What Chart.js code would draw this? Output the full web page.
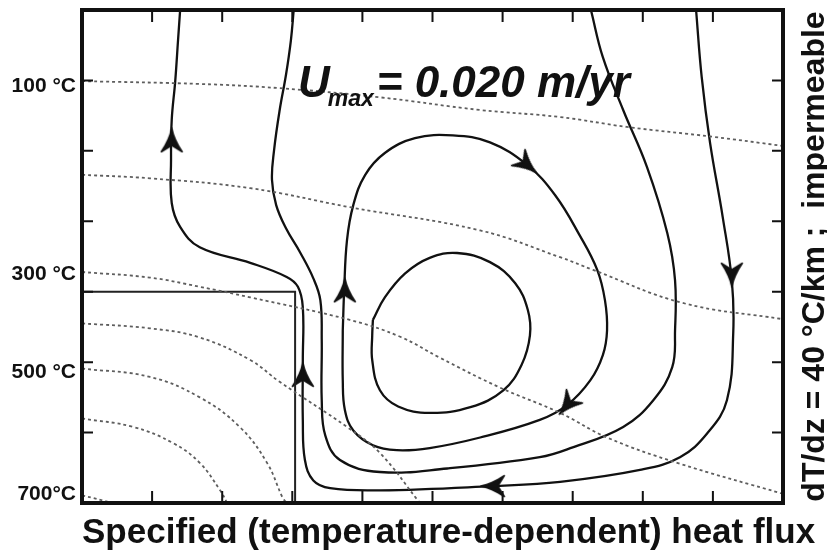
<!DOCTYPE html>
<html>
<head>
<meta charset="utf-8">
<script src="https://cdn.jsdelivr.net/npm/chart.js@4.4.1/dist/chart.umd.min.js"></script>
<style>
  html, body { margin: 0; padding: 0; background: #fff; }
</style>
</head>
<body>
<canvas id="flowChart" width="827" height="557"></canvas>
<script>
// section is 10 units across and 7 units deep (depth grows downward)
const xTicks = [0, 1, 2, 3, 4, 5, 6, 7, 8, 9, 10];
const yTicks = [0, 1, 2, 3, 4, 5, 6, 7];
const tempLabels = ["100 °C", "300 °C", "500 °C", "700°C"];
const tempDepths = [1.08, 3.75, 5.14, 6.88];

// isotherms (dotted)
const iso100 = [[0, 1.01], [1.68, 1.05], [2.82, 1.11], [4.25, 1.24], [5.68, 1.42], [6.82, 1.52], [7.77, 1.66], [9.0, 1.80], [10, 1.93]];
const iso200 = [[0, 2.34], [0.97, 2.39], [2.40, 2.53], [3.82, 2.80], [5.68, 3.13], [6.82, 3.51], [7.29, 3.69], [8.57, 4.16], [10, 4.39]];
const iso300 = [[0, 3.72], [0.97, 3.80], [1.68, 3.93], [2.40, 4.08], [3.82, 4.40], [4.54, 4.64], [5.11, 4.94], [5.96, 5.36], [6.82, 5.72], [7.49, 6.07], [8.49, 6.43], [10, 6.87]];
const iso400 = [[0, 4.45], [0.97, 4.52], [1.68, 4.65], [2.40, 4.97], [2.82, 5.28], [3.78, 5.92], [4.25, 6.29], [4.82, 7.0]];
const iso500 = [[0, 5.09], [0.97, 5.21], [1.68, 5.50], [2.25, 5.92], [2.64, 6.43], [2.86, 6.92], [2.92, 7.0]];
const iso600 = [[0, 5.80], [0.73, 5.92], [1.30, 6.15], [1.68, 6.43], [1.97, 6.82], [2.07, 7.0]];
const iso700 = [[0, 6.89], [0.44, 7.0]];

// block outline in the lower left corner
const blockEdge = [[0, 4.0], [3.04, 4.0], [3.04, 7.0]];

// streamlines, listed in flow direction
const streamOuter = [[8.76, 0], [8.84, 0.95], [8.96, 1.89], [9.14, 2.94], [9.27, 3.84], [9.29, 4.59], [9.20, 5.54], [8.92, 6.01], [8.53, 6.35], [7.96, 6.53], [6.82, 6.70], [5.86, 6.76], [4.25, 6.82], [3.54, 6.79], [3.30, 6.68], [3.18, 6.39], [3.15, 5.82], [3.15, 4.97], [3.15, 4.22], [3.08, 3.93], [2.92, 3.79], [2.40, 3.59], [1.68, 3.37], [1.40, 3.08], [1.28, 2.74], [1.27, 2.13], [1.28, 1.56], [1.33, 1.01], [1.37, 0.43], [1.40, 0]];
const streamMiddle = [[7.26, 0], [7.43, 0.67], [7.72, 1.42], [8.06, 2.23], [8.35, 3.17], [8.46, 3.84], [8.46, 4.55], [8.42, 5.07], [8.15, 5.54], [7.72, 5.92], [7.00, 6.21], [6.53, 6.35], [5.21, 6.51], [4.25, 6.56], [3.68, 6.39], [3.47, 6.04], [3.42, 5.54], [3.42, 4.69], [3.40, 4.12], [3.30, 3.81], [3.11, 3.44], [2.91, 3.10], [2.77, 2.77], [2.71, 2.41], [2.74, 1.99], [2.82, 1.42], [2.91, 0.92], [2.98, 0.43], [3.02, 0]];
const loopOuter = [[3.72, 4.55], [3.74, 3.98], [3.78, 3.27], [3.87, 2.77], [4.04, 2.34], [4.32, 2.03], [4.75, 1.82], [5.29, 1.78], [5.82, 1.88], [6.35, 2.20], [6.75, 2.63], [7.10, 3.20], [7.35, 3.69], [7.46, 4.12], [7.49, 4.55], [7.43, 4.90], [7.25, 5.26], [6.92, 5.61], [6.53, 5.82], [5.68, 6.07], [4.96, 6.22], [4.49, 6.25], [4.15, 6.18], [3.87, 5.97], [3.75, 5.68], [3.72, 5.26], [3.72, 4.55]];
const loopInner = [[4.15, 4.40], [4.32, 4.08], [4.61, 3.74], [4.96, 3.52], [5.35, 3.45], [5.82, 3.58], [6.18, 3.88], [6.36, 4.26], [6.39, 4.62], [6.27, 5.04], [6.01, 5.40], [5.54, 5.64], [4.96, 5.72], [4.51, 5.63], [4.25, 5.40], [4.14, 4.97], [4.14, 4.62], [4.15, 4.40]];

// flow arrows: position and heading (degrees clockwise from up)
const arrowPos = [[1.28, 1.85], [3.15, 5.18], [5.86, 6.76], [9.27, 3.76], [3.75, 3.98], [6.35, 2.20], [6.92, 5.61]];
const arrowDir = [0, 0, 270, 180, 0, 130, 220];

const pts = arr => arr.map(([x, y]) => ({ x, y }));
const FONT = "'Liberation Sans', Arial, Helvetica, sans-serif";
const INK = "#111";

function makeArrowHead() {
    const c = document.createElement("canvas");
    c.width = 24;
    c.height = 26;
    const g = c.getContext("2d");
    g.fillStyle = INK;
    g.strokeStyle = INK;
    g.lineWidth = 1.5;
    g.lineJoin = "round";
    g.beginPath();
    g.moveTo(12, 1);
    g.quadraticCurveTo(14.5, 13, 22.5, 24.5);
    g.lineTo(12, 18);
    g.lineTo(1.5, 24.5);
    g.quadraticCurveTo(9.5, 13, 12, 1);
    g.closePath();
    g.fill();
    g.stroke();
    return c;
}

function isotherm(arr) {
    return {
        data: pts(arr), showLine: true, pointRadius: 0,
        borderColor: "#5e5e5e", borderWidth: 1.8, borderDash: [3, 3],
        tension: 0.4
    };
}
function stream(arr) {
    return {
        data: pts(arr), showLine: true, pointRadius: 0,
        borderColor: INK, borderWidth: 2.3, tension: 0.4
    };
}

const overlay = {
    id: "overlay",
    afterDraw(chart) {
        const { ctx, chartArea: a, scales: { x, y } } = chart;
        ctx.save();

        // frame with inward ticks
        ctx.strokeStyle = INK;
        ctx.lineWidth = 2;
        ctx.beginPath();
        xTicks.slice(1, -1).forEach(v => {
            const px = x.getPixelForValue(v);
            ctx.moveTo(px, a.top); ctx.lineTo(px, a.top + 12);
            ctx.moveTo(px, a.bottom); ctx.lineTo(px, a.bottom - 12);
        });
        yTicks.slice(1, -1).forEach(v => {
            const py = y.getPixelForValue(v);
            ctx.moveTo(a.left, py); ctx.lineTo(a.left + 11, py);
            ctx.moveTo(a.right, py); ctx.lineTo(a.right - 11, py);
        });
        ctx.stroke();
        ctx.lineWidth = 4;
        ctx.strokeRect(a.left, a.top, a.width, a.height);

        ctx.fillStyle = INK;

        // temperature labels on the left
        ctx.font = "bold 21px " + FONT;
        ctx.textAlign = "right";
        ctx.textBaseline = "middle";
        tempLabels.forEach((t, i) => {
            ctx.fillText(t, a.left - 6, y.getPixelForValue(tempDepths[i]));
        });

        // U_max annotation
        ctx.textAlign = "left";
        ctx.textBaseline = "alphabetic";
        let ux = x.getPixelForValue(3.08);
        const uy = y.getPixelForValue(1.24);
        ctx.font = "italic bold 44px " + FONT;
        ctx.fillText("U", ux, uy);
        ux += ctx.measureText("U").width - 2;
        ctx.font = "italic bold 23px " + FONT;
        ctx.fillText("max", ux, uy + 9);
        ux += ctx.measureText("max").width + 3;
        ctx.font = "italic bold 44px " + FONT;
        ctx.fillText("= 0.020 m/yr", ux, uy);

        // bottom boundary label
        ctx.font = "bold 35px " + FONT;
        ctx.fillText("Specified (temperature-dependent) heat flux", a.left, a.bottom + 40);

        // right boundary label, reading upward
        ctx.translate(a.right + 41, (a.top + a.bottom) / 2);
        ctx.rotate(-Math.PI / 2);
        ctx.textAlign = "center";
        ctx.font = "bold 32px " + FONT;
        ctx.fillText("dT/dz = 40 °C/km ;  impermeable", 0, 0);

        ctx.restore();
    }
};

const ctx = document.getElementById("flowChart").getContext("2d");
new Chart(ctx, {
    type: "scatter",
    data: {
        datasets: [
            isotherm(iso100), isotherm(iso200), isotherm(iso300), isotherm(iso400),
            isotherm(iso500), isotherm(iso600), isotherm(iso700),
            {
                data: pts(blockEdge), showLine: true, pointRadius: 0,
                borderColor: "#222", borderWidth: 2, tension: 0
            },
            stream(streamOuter), stream(streamMiddle), stream(loopOuter), stream(loopInner),
            {
                data: pts(arrowPos), showLine: false,
                pointStyle: makeArrowHead(), pointRadius: 6,
                rotation: arrowDir
            }
        ]
    },
    options: {
        responsive: false,
        animation: false,
        devicePixelRatio: 1,
        layout: { padding: { left: 82, top: 10, right: 44, bottom: 54 } },
        plugins: {
            legend: { display: false },
            tooltip: { enabled: false }
        },
        scales: {
            x: { type: "linear", min: 0, max: 10, display: false },
            y: { type: "linear", min: 0, max: 7, reverse: true, display: false }
        }
    },
    plugins: [overlay]
});
</script>
</body>
</html>
